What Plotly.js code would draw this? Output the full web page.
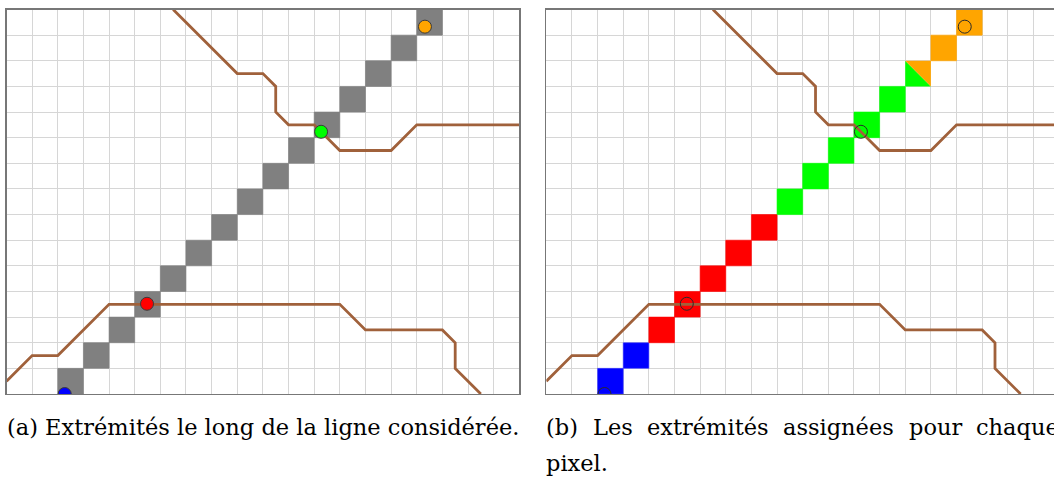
<!DOCTYPE html>
<html>
<head>
<meta charset="utf-8">
<script src="https://cdn.plot.ly/plotly-3.0.1.min.js"></script>
<style>html,body{margin:0;padding:0;background:#fff;}#chart{width:1054px;height:477px;}</style>
</head>
<body>
<div id="chart"></div>
<script>
// ---- data ----
// pixel cells along the considered line (column, row)
var cellCols = [2, 3, 4, 5, 6, 7, 8, 9, 10, 11, 12, 13, 14, 15, 16];
var cellRows = [0, 1, 2, 3, 4, 5, 6, 7, 8, 9, 10, 11, 12, 13, 14];
// endpoint assigned to each cell in panel (b) ("split" = half green / half orange)
var cellAssign = ["blue", "blue", "red", "red", "red", "red", "red", "green", "green", "green", "green", "green", "split", "orange", "orange"];
// endpoints (extremities)
var endX = [2.27, 5.48, 12.27, 16.32];
var endY = [0.0, 3.52, 10.23, 14.33];
var endColors = ["#0000ff", "#ff0000", "#00ff00", "#ffa500"];
// boundary polylines
var upperX = [6.5, 9, 10, 10.5, 10.5, 11, 12, 13, 15, 16, 20];
var upperY = [15, 12.5, 12.5, 12, 11, 10.5, 10.5, 9.5, 9.5, 10.5, 10.5];
var lowerX = [0, 1, 2, 4, 13, 14, 17, 17.5, 17.5, 18.5];
var lowerY = [0.5, 1.5, 1.5, 3.5, 3.5, 2.5, 2.5, 2, 1, 0];
// captions
var captionA = "(a) Extrémités le long de la ligne considérée.";
var captionBWords = ["(b)", "Les", "extrémités", "assignées", "pour", "chaque"];
var captionBLine2 = "pixel.";

// ---- drawing ----
var W = 1054, H = 477;
var cell = 25.64;
var plotTop = 9.5, plotBottom = 394;
var leftL = 6.5, leftR = 519.3, rightL = 546.3;
var colorMap = {blue: "#0000ff", red: "#ff0000", green: "#00ff00", orange: "#ffa500"};
var brown = "#a0613b";

var traces = [];
function square(c, r, color, xa, ya, edge) {
  traces.push({
    x: [c, c + 1, c + 1, c, c], y: [r, r, r + 1, r + 1, r],
    xaxis: xa, yaxis: ya, mode: "lines", fill: "toself",
    fillcolor: color, line: {color: edge, width: 0.6},
    hoverinfo: "skip", showlegend: false
  });
}
function tri(xs, ys, color, xa, ya) {
  traces.push({
    x: xs, y: ys, xaxis: xa, yaxis: ya, mode: "lines", fill: "toself",
    fillcolor: color, line: {color: color, width: 0},
    hoverinfo: "skip", showlegend: false
  });
}
// panel (a) gray cells
for (var i = 0; i < cellCols.length; i++) {
  square(cellCols[i], cellRows[i], "#808080", "x", "y", "#808080");
}
// panel (b) colored cells
for (var i = 0; i < cellCols.length; i++) {
  var c = cellCols[i], r = cellRows[i];
  if (cellAssign[i] === "split") {
    tri([c, c, c + 1, c], [r + 1, r, r, r + 1], colorMap.green, "x2", "y2");
    tri([c, c + 1, c + 1, c], [r + 1, r + 1, r, r + 1], colorMap.orange, "x2", "y2");
  } else {
    var col = colorMap[cellAssign[i]];
    square(c, r, col, "x2", "y2", cellAssign[i] === "blue" ? "#3a3aff" : col);
  }
}
// boundary lines
[["x", "y"], ["x2", "y2"]].forEach(function (ax) {
  traces.push({x: upperX, y: upperY, xaxis: ax[0], yaxis: ax[1], mode: "lines",
    line: {color: brown, width: 2.8}, hoverinfo: "skip", showlegend: false});
  traces.push({x: lowerX, y: lowerY, xaxis: ax[0], yaxis: ax[1], mode: "lines",
    line: {color: brown, width: 2.8}, hoverinfo: "skip", showlegend: false});
});
// endpoints
traces.push({x: endX, y: endY, xaxis: "x", yaxis: "y", mode: "markers",
  marker: {size: 13, color: endColors, line: {color: "#3a3a3a", width: 1}},
  hoverinfo: "skip", showlegend: false});
traces.push({x: endX, y: endY, xaxis: "x2", yaxis: "y2", mode: "markers",
  marker: {size: 13, color: "rgba(0,0,0,0)", line: {color: "#2a2a2a", width: 1}},
  hoverinfo: "skip", showlegend: false});

var gridC = "#d6d6d6";
function xaxisDef(domain, range, mirror) {
  return {domain: domain, range: range, dtick: 1, tick0: 0, showgrid: true, gridcolor: gridC,
    gridwidth: 1, zeroline: false, showticklabels: false, ticks: "", showline: true,
    linecolor: "#777", linewidth: 1.3, mirror: mirror, fixedrange: true};
}
var yDom = [(H - plotBottom) / H, (H - plotTop) / H];
var layout = {
  width: W, height: H, margin: {l: 0, r: 0, t: 0, b: 0},
  paper_bgcolor: "#fff", plot_bgcolor: "#fff", showlegend: false,
  xaxis: xaxisDef([leftL / W, leftR / W], [0, 20], true),
  yaxis: xaxisDef(yDom, [0, 15], true),
  xaxis2: xaxisDef([rightL / W, 1], [0, (W - rightL) / cell], true),
  yaxis2: xaxisDef(yDom, [0, 15], false),
  annotations: []
};
layout.yaxis.anchor = "x";
layout.yaxis2.anchor = "x2";
layout.xaxis2.anchor = "y2";

var fontSize = 22.5, fontFam = "DejaVu Serif";
var capFont = {family: fontFam, size: fontSize, color: "#000"};
var line1Y = 427, line2Y = 463;
layout.annotations.push({text: captionA, xref: "paper", yref: "paper", x: ((leftL + leftR) / 2) / W, y: (H - line1Y) / H,
  xanchor: "center", yanchor: "middle", showarrow: false, font: capFont});
// justify caption (b) first line across the full subfigure width (the page crops it)
var ctx = document.createElement("canvas").getContext("2d");
ctx.font = fontSize + "px '" + fontFam + "'";
var widths = captionBWords.map(function (w) { return ctx.measureText(w).width; });
var total = widths.reduce(function (a, b) { return a + b; }, 0);
var lineStart = rightL, lineEnd = rightL + (leftR - leftL);
var gap = (lineEnd - lineStart - total) / (captionBWords.length - 1);
var pos = lineStart;
captionBWords.forEach(function (w, k) {
  layout.annotations.push({text: w, xref: "paper", yref: "paper", x: pos / W, y: (H - line1Y) / H,
    xanchor: "left", yanchor: "middle", showarrow: false, font: capFont, borderpad: 0, borderwidth: 0});
  pos += widths[k] + gap;
});
layout.annotations.push({text: captionBLine2, xref: "paper", yref: "paper", x: lineStart / W, y: (H - line2Y) / H,
  xanchor: "left", yanchor: "middle", showarrow: false, font: capFont, borderpad: 0, borderwidth: 0});

Plotly.newPlot("chart", traces, layout, {staticPlot: true, displayModeBar: false});
</script>
</body>
</html>
